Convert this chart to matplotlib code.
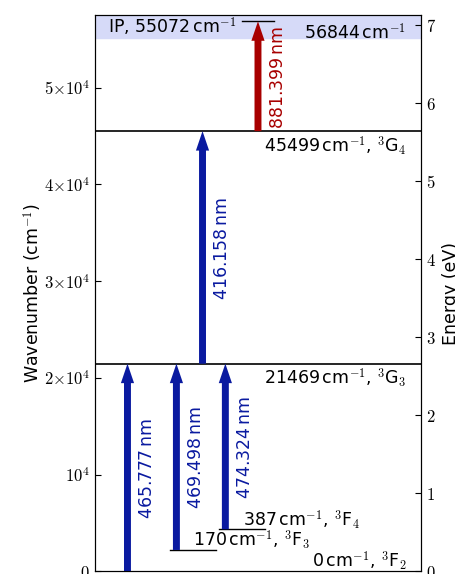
import numpy as np
import matplotlib
matplotlib.use('Agg')
import matplotlib.pyplot as plt

plt.rcParams['mathtext.fontset'] = 'cm'
plt.rcParams['mathtext.rm'] = 'DejaVu Sans'

# energy levels (cm^-1) and term symbols
level_energy = [0, 170, 387, 21469, 45499]
level_term = ['$^3$F$_2$', '$^3$F$_3$', '$^3$F$_4$', '$^3$G$_3$', '$^3$G$_4$']
# the two low levels are lifted on the plot so they can be seen
level_drawn = [0, 2222, 4361, 21469, 45499]
ip_energy = 55072
final_energy = 56844

# transitions: lower level index, wavelength (nm)
trans_lower = [0, 1, 2, 3]
trans_nm = [465.777, 469.498, 474.324, 416.158]
red_nm = 881.399

cm_per_ev = 8065.54
blue = '#0a1aa0'
red = '#a80000'

fig = plt.figure(figsize=(4.56, 5.74), dpi=100)
ax = fig.add_axes([0.208, 0.0044, 0.7155, 0.9695])
ax.set_xlim(0, 1)
ax.set_ylim(0, 57500)

# ionisation potential band
ax.axhspan(ip_energy, 57500, color='#d6daf8', zorder=0)

# full width levels
for e in level_energy[3:]:
    ax.axhline(e, color='k', lw=1.2)

# short lines for the low levels and the final state
ax.plot([0.23, 0.37], [level_drawn[1]] * 2, color='k', lw=1.0)
ax.plot([0.38, 0.52], [level_drawn[2]] * 2, color='k', lw=1.0)
ax.plot([0.45, 0.55], [final_energy] * 2, color='k', lw=1.0)

arrow_x = [0.1, 0.25, 0.4, 0.33]
label_y = [10592, 11780, 12814, 33380]
style = 'simple,head_width=0.95,head_length=1.4,tail_width=0.5'

for i in range(len(trans_nm)):
    j = trans_lower[i]
    up = level_energy[j] + 1e7 / trans_nm[i]
    ax.annotate('', xy=(arrow_x[i], up), xytext=(arrow_x[i], level_drawn[j]),
                arrowprops=dict(arrowstyle=style, color=blue, lw=0,
                                shrinkA=0, shrinkB=0))
    ax.text(arrow_x[i] + 0.06, label_y[i], '%.3f$\\,$nm' % trans_nm[i],
            rotation=90, ha='center', va='center', color=blue, fontsize=12.5)

# red ionising step
lo = level_energy[4]
ax.annotate('', xy=(0.5, lo + 1e7 / red_nm), xytext=(0.5, lo),
            arrowprops=dict(arrowstyle=style, color=red, lw=0,
                            shrinkA=0, shrinkB=0))
ax.text(0.56, 51050, '%.3f$\\,$nm' % red_nm, rotation=90, ha='center',
        va='center', color=red, fontsize=12.5)

# level labels
def lab(e, t):
    return '%d$\\,$cm$^{-1}$, %s' % (e, t)

ax.text(0.955, 1013, lab(level_energy[0], level_term[0]), ha='right', va='center', fontsize=12.5)
ax.text(0.30, 3255, lab(level_energy[1], level_term[1]), ha='left', va='center', fontsize=12.5)
ax.text(0.453, 5322, lab(level_energy[2], level_term[2]), ha='left', va='center', fontsize=12.5)
ax.text(0.955, 19965, lab(level_energy[3], level_term[3]), ha='right', va='center', fontsize=12.5)
ax.text(0.955, 43898, lab(level_energy[4], level_term[4]), ha='right', va='center', fontsize=12.5)
ax.text(0.04, 56298, 'IP, %d$\\,$cm$^{-1}$' % ip_energy, ha='left', va='center', fontsize=12.5)
ax.text(0.952, 55617, '%d$\\,$cm$^{-1}$' % final_energy, ha='right', va='center', fontsize=12.5)

# left axis
ax.set_xticks([])
yt = [0, 1e4, 2e4, 3e4, 4e4, 5e4]
ax.set_yticks(yt)
ax.set_yticklabels(['$0$', '$10^{4}$', '$2{\\times}10^{4}$', '$3{\\times}10^{4}$',
                    '$4{\\times}10^{4}$', '$5{\\times}10^{4}$'], fontsize=12)
ax.tick_params(axis='y', direction='in', length=4, left=True, right=False)
ax.set_ylabel('Wavenumber (cm$^{-1}$)', fontsize=12.5, labelpad=0)

# right axis in eV
ax2 = ax.twinx()
ax2.set_ylim(0, 57500 / cm_per_ev)
ax2.set_yticks(range(8))
ax2.set_yticklabels(['$%d$' % i for i in range(8)], fontsize=12)
ax2.tick_params(axis='y', direction='in', length=4)
ax2.set_ylabel('Energy (eV)', fontsize=12.5, labelpad=4)

fig.savefig('out.png', dpi=100)
